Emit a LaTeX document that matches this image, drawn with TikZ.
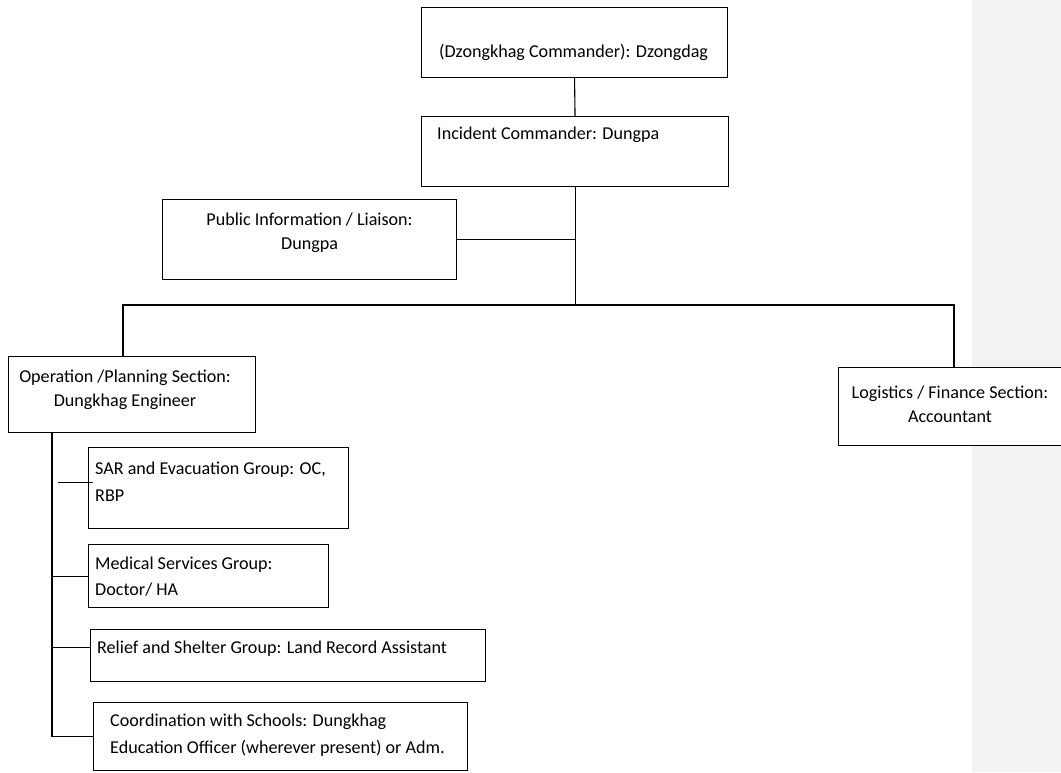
\documentclass[tikz,border=0pt]{standalone}
\usepackage{fontspec}
\setmainfont{Carlito}
\begin{document}
\begin{tikzpicture}[x=1pt,y=-1pt,
  every node/.style={font=\fontsize{18.1pt}{24pt}\selectfont},
  orgbox/.style={draw,fill=white,line width=1.1pt,anchor=north west,inner sep=0pt},
  ctrtext/.style={align=center,inner sep=0pt},
  lefttext/.style={align=left,anchor=west,inner sep=0pt,font=\fontsize{18.1pt}{26.5pt}\selectfont},
  link/.style={line width=1.1pt}]
\useasboundingbox (0,0) rectangle (1061,772);
% comment margin
\fill[gray!10] (972,0) rectangle (1061,772);
% Boxes
\node[orgbox,minimum width=306,minimum height=70] (dz) at (421,7) {};
\node[orgbox,minimum width=307,minimum height=70] (ic) at (421,116) {};
\node[orgbox,minimum width=294,minimum height=80] (pi) at (162,199) {};
\node[orgbox,minimum width=247,minimum height=76] (op) at (8,356) {};
\node[orgbox,minimum width=260,minimum height=78] (lf) at (838,367) {};
\node[orgbox,minimum width=260,minimum height=81] (sar) at (88,447) {};
\node[orgbox,minimum width=240,minimum height=63] (md) at (88,544) {};
\node[orgbox,minimum width=395,minimum height=52] (rs) at (90,629) {};
\node[orgbox,minimum width=374,minimum height=68] (co) at (93,702) {};
% Texts
\node[ctrtext] (dzt) at ([shift={(-1,10)}]dz.center) {(Dzongkhag Commander): Dzongdag};
\node[ctrtext,anchor=west] (ict) at ([shift={(16,19)}]ic.north west) {Incident Commander: Dungpa};
\node[ctrtext] (pit) at ([shift={(0,-7)}]pi.center) {Public Information / Liaison:\\Dungpa};
\node[ctrtext] (opt) at ([shift={(-7,-5)}]op.center) {Operation /Planning Section:\\Dungkhag Engineer};
\node[ctrtext] (lft) at ([shift={(112,37)}]lf.north west) {Logistics / Finance Section:\\Accountant};
\node[lefttext] (sart) at ([shift={(7,34.5)}]sar.north west) {SAR and Evacuation Group: OC,\\RBP};
\node[lefttext] (mdt) at ([shift={(7,32.5)}]md.north west) {Medical Services Group:\\Doctor/ HA};
\node[lefttext] (rst) at ([shift={(7,20)}]rs.north west) {Relief and Shelter Group: Land Record Assistant};
\node[lefttext] (cot) at ([shift={(17,33)}]co.north west) {Coordination with Schools: Dungkhag\\Education Officer (wherever present) or Adm.};
% Connectors
\coordinate (bl) at (123,305);
\coordinate (br) at (954,305);
\coordinate (spine) at (52,0);
\coordinate (rsjoin) at ([shift={(0,-8)}]rs.west);
\draw[link] (dz.south) -- (ic.north);
\draw[link] (ic.south) -- (ic.south |- bl);
\draw[link] (pi.east) -- (pi.east -| ic.south);
\draw[link] (bl |- op.north) -- (bl) -- (br) -- (br |- lf.north);
\draw[link] (spine |- op.south) |- (co.west);
\draw[link] (spine |- md.west) -- (md.west);
\draw[link] (spine |- rsjoin) -- (rsjoin);
\draw[link] ([shift={(-30,-6)}]sar.west) -- ([shift={(5,-6)}]sar.west);
\end{tikzpicture}
\end{document}
